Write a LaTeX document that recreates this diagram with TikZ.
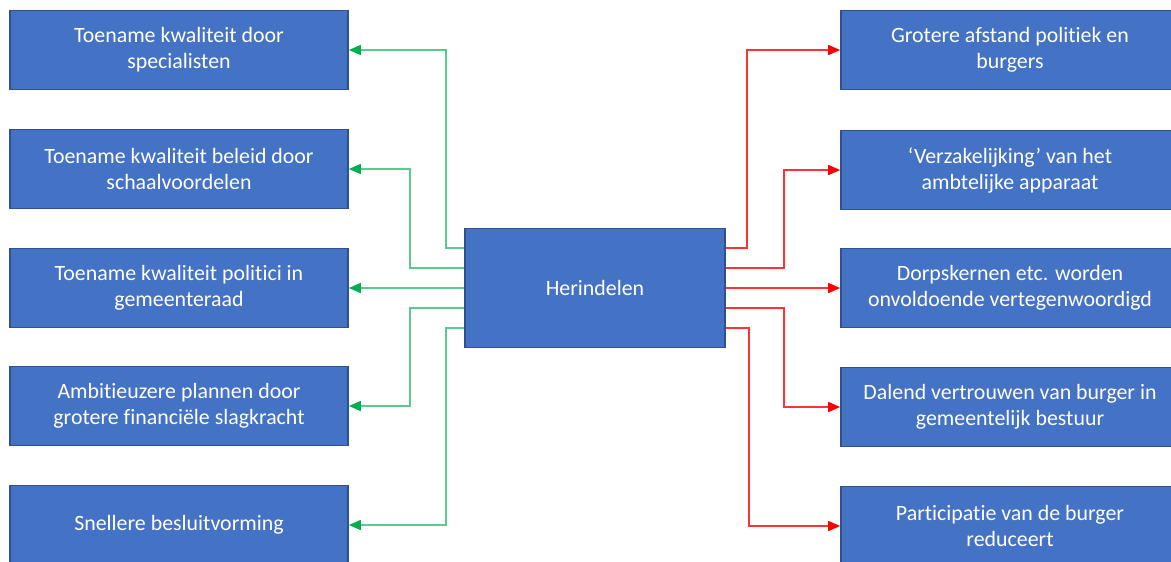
\documentclass[tikz,border=0pt]{standalone}
\usepackage{fontspec}
\setmainfont[Ligatures=NoCommon]{Carlito}
\usetikzlibrary{arrows.meta}
\definecolor{boxblue}{HTML}{4472C4}
\definecolor{boxedge}{HTML}{2F528F}
\definecolor{plusgreen}{HTML}{00B050}
\definecolor{minred}{HTML}{FF0000}

\begin{document}
\begin{tikzpicture}
	[x=0.75pt,y=-0.75pt,
	 every node/.style={rectangle, draw=boxedge, line width=1.2pt, fill=boxblue, text=white, align=center, inner sep=0pt, font=\fontsize{16.4}{19.5}\selectfont},
	 effect/.style={minimum width=253.5pt, minimum height=59.25pt},
	 pro/.style={draw=plusgreen!65, line width=1.1pt, -{Triangle[length=9pt,width=7.5pt,color=plusgreen]}},
	 con/.style={draw=minred!80, line width=1.1pt, -{Triangle[length=9pt,width=7.5pt,color=minred]}}]
	\clip (0,0) rectangle (1171,561);
	\node[minimum width=195pt, minimum height=89.25pt] (h) at (595,288) {Herindelen};
	
	\node[effect] (l1) at (179,50) {Toename kwaliteit door\\specialisten};
	\node[effect] (l2) at (179,169) {Toename kwaliteit beleid door\\schaalvoordelen};
	\node[effect] (l3) at (179,288) {Toename kwaliteit politici in\\gemeenteraad};
	\node[effect] (l4) at (179,406) {Ambitieuzere plannen door\\grotere financiële slagkracht};
	\node[effect] (l5) at (179,525) {Snellere besluitvorming};
	
	\node[effect] (r1) at (1010,50) {Grotere afstand politiek en\\burgers};
	\node[effect] (r2) at (1010,170) {‘Verzakelijking’ van het\\ambtelijke apparaat};
	\node[effect] (r3) at (1010,288) {Dorpskernen etc. worden\\onvoldoende vertegenwoordigd};
	\node[effect] (r4) at (1010,407) {Dalend vertrouwen van burger in\\gemeentelijk bestuur};
	\node[effect] (r5) at (1010,526) {Participatie van de burger\\reduceert};
	
	% voordelen
	\draw[pro] (h.west) ++(0,-40) -- ++(-18,0) |- (l1.east);
	\draw[pro] (h.west) ++(0,-20) -- ++(-54,0) |- (l2.east);
	\draw[pro] (h.west) -- (l3.east);
	\draw[pro] (h.west) ++(0,20) -- ++(-54,0) |- (l4.east);
	\draw[pro] (h.west) ++(0,40) -- ++(-18,0) |- (l5.east);
	
	% nadelen
	\draw[con] (h.east) ++(0,-40) -- ++(21,0) |- (r1.west);
	\draw[con] (h.east) ++(0,-20) -- ++(58,0) |- (r2.west);
	\draw[con] (h.east) -- (r3.west);
	\draw[con] (h.east) ++(0,20) -- ++(58,0) |- (r4.west);
	\draw[con] (h.east) ++(0,40) -- ++(23,0) |- (r5.west);
\end{tikzpicture}
\end{document}
